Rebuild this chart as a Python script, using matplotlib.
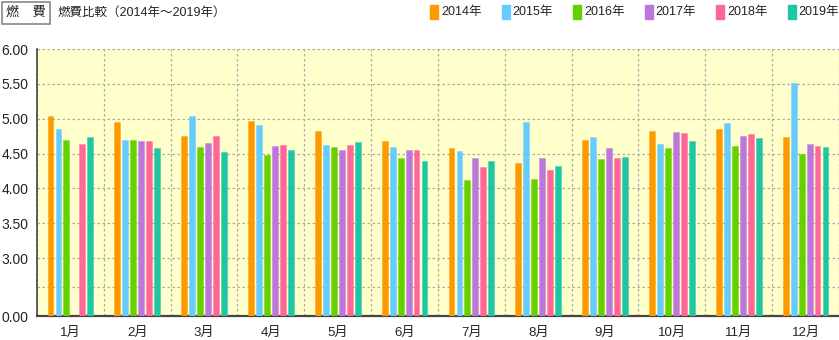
import numpy as np
import matplotlib
matplotlib.use('Agg')
import matplotlib.pyplot as plt
from matplotlib.patches import Rectangle

plt.rcParams['font.family'] = ['Liberation Sans', 'Noto Sans CJK JP', 'DejaVu Sans']

# data
months = ['1月', '2月', '3月', '4月', '5月', '6月', '7月', '8月', '9月', '10月', '11月', '12月']
years = ['2014年', '2015年', '2016年', '2017年', '2018年', '2019年']
fuel_2014 = [5.04, 4.95, 4.75, 4.97, 4.82, 4.68, 4.58, 4.36, 4.69, 4.82, 4.85, 4.74]
fuel_2015 = [4.85, 4.69, 5.04, 4.91, 4.62, 4.60, 4.54, 4.95, 4.74, 4.64, 4.94, 5.51]
fuel_2016 = [4.69, 4.69, 4.59, 4.48, 4.60, 4.44, 4.12, 4.14, 4.42, 4.58, 4.61, 4.50]
fuel_2017 = [np.nan, 4.68, 4.65, 4.61, 4.55, 4.55, 4.44, 4.44, 4.58, 4.81, 4.75, 4.64]
fuel_2018 = [4.64, 4.68, 4.75, 4.62, 4.62, 4.55, 4.31, 4.26, 4.44, 4.79, 4.78, 4.61]
fuel_2019 = [4.74, 4.58, 4.52, 4.55, 4.66, 4.40, 4.40, 4.32, 4.45, 4.68, 4.73, 4.60]
series = [fuel_2014, fuel_2015, fuel_2016, fuel_2017, fuel_2018, fuel_2019]
colors = ['#ff9900', '#66ccff', '#66d100', '#bb77dd', '#ff6699', '#1fc6a6']

# broken y axis: 0..3 squeezed, 3..6 linear
BRK = 0.83
def fwd(v):
    v = np.asarray(v, dtype=float)
    return np.where(v >= 3, v - 3 + BRK, v * BRK / 3)

def inv(d):
    d = np.asarray(d, dtype=float)
    return np.where(d >= BRK, d + 3 - BRK, d * 3 / BRK)

fig = plt.figure(figsize=(8.39, 3.40), dpi=100)
ax = fig.add_axes([37/839, 24/340, 802/839, 267/340])
ax.set_facecolor('#ffffcc')
ax.set_yscale('function', functions=(fwd, inv))

x = np.arange(len(months))
pitch = 0.119
w = 0.088
for i, (vals, c) in enumerate(zip(series, colors)):
    ax.bar(x + (i - 2.5) * pitch, vals, width=w, color=c, zorder=3,
           edgecolor=matplotlib.colors.to_rgba(c, 0.45), linewidth=0.6)

ax.set_xlim(-0.5, 11.5)
ax.set_ylim(0, 6)
ax.set_yticks([0, 3, 3.5, 4, 4.5, 5, 5.5, 6])
ax.set_yticklabels(['0.00', '3.00', '3.50', '4.00', '4.50', '5.00', '5.50', '6.00'])
ax.set_yticks([1.5], minor=True)
ax.set_xticks(x)
ax.set_xticklabels(months)
ax.set_xticks(np.arange(-0.5, 12, 1), minor=True)
ax.tick_params(axis='both', which='both', length=0, labelsize=10, colors='#222222')
ax.tick_params(axis='y', pad=6)
ax.tick_params(axis='x', pad=8, labelsize=9.5)
ax.grid(True, which='both', color='#aaaaaa', linestyle=(0, (2, 2)), linewidth=0.9, zorder=1)
ax.grid(False, which='major', axis='x')

for s in ['top', 'right']:
    ax.spines[s].set_visible(False)
ax.spines['left'].set_color('#444444')
ax.spines['bottom'].set_color('#444444')
ax.spines['left'].set_linewidth(1.2)
ax.spines['bottom'].set_linewidth(1.6)

# header
fig.text(26/839, 1 - 13/340, '燃\u3000費', ha='center', va='center', fontsize=9.5,
         color='#222222',
         bbox=dict(boxstyle='square,pad=0.35', facecolor='white', edgecolor='#888888', linewidth=1.2))
fig.text(58/839, 1 - 13/340, '燃費比較（2014年～2019年）', ha='left', va='center',
         fontsize=9, color='#222222')

# legend
for j, (yr, c) in enumerate(zip(years, colors)):
    lx = 430 + j * 71.5
    fig.patches.append(Rectangle((lx/839, 1 - 19/340), 8/839, 14/340, color=c,
                                 transform=fig.transFigure))
    fig.text((lx + 11)/839, 1 - 12.5/340, yr, ha='left', va='center', fontsize=9,
             color='#222222')

plt.savefig('out.png', dpi=100)
